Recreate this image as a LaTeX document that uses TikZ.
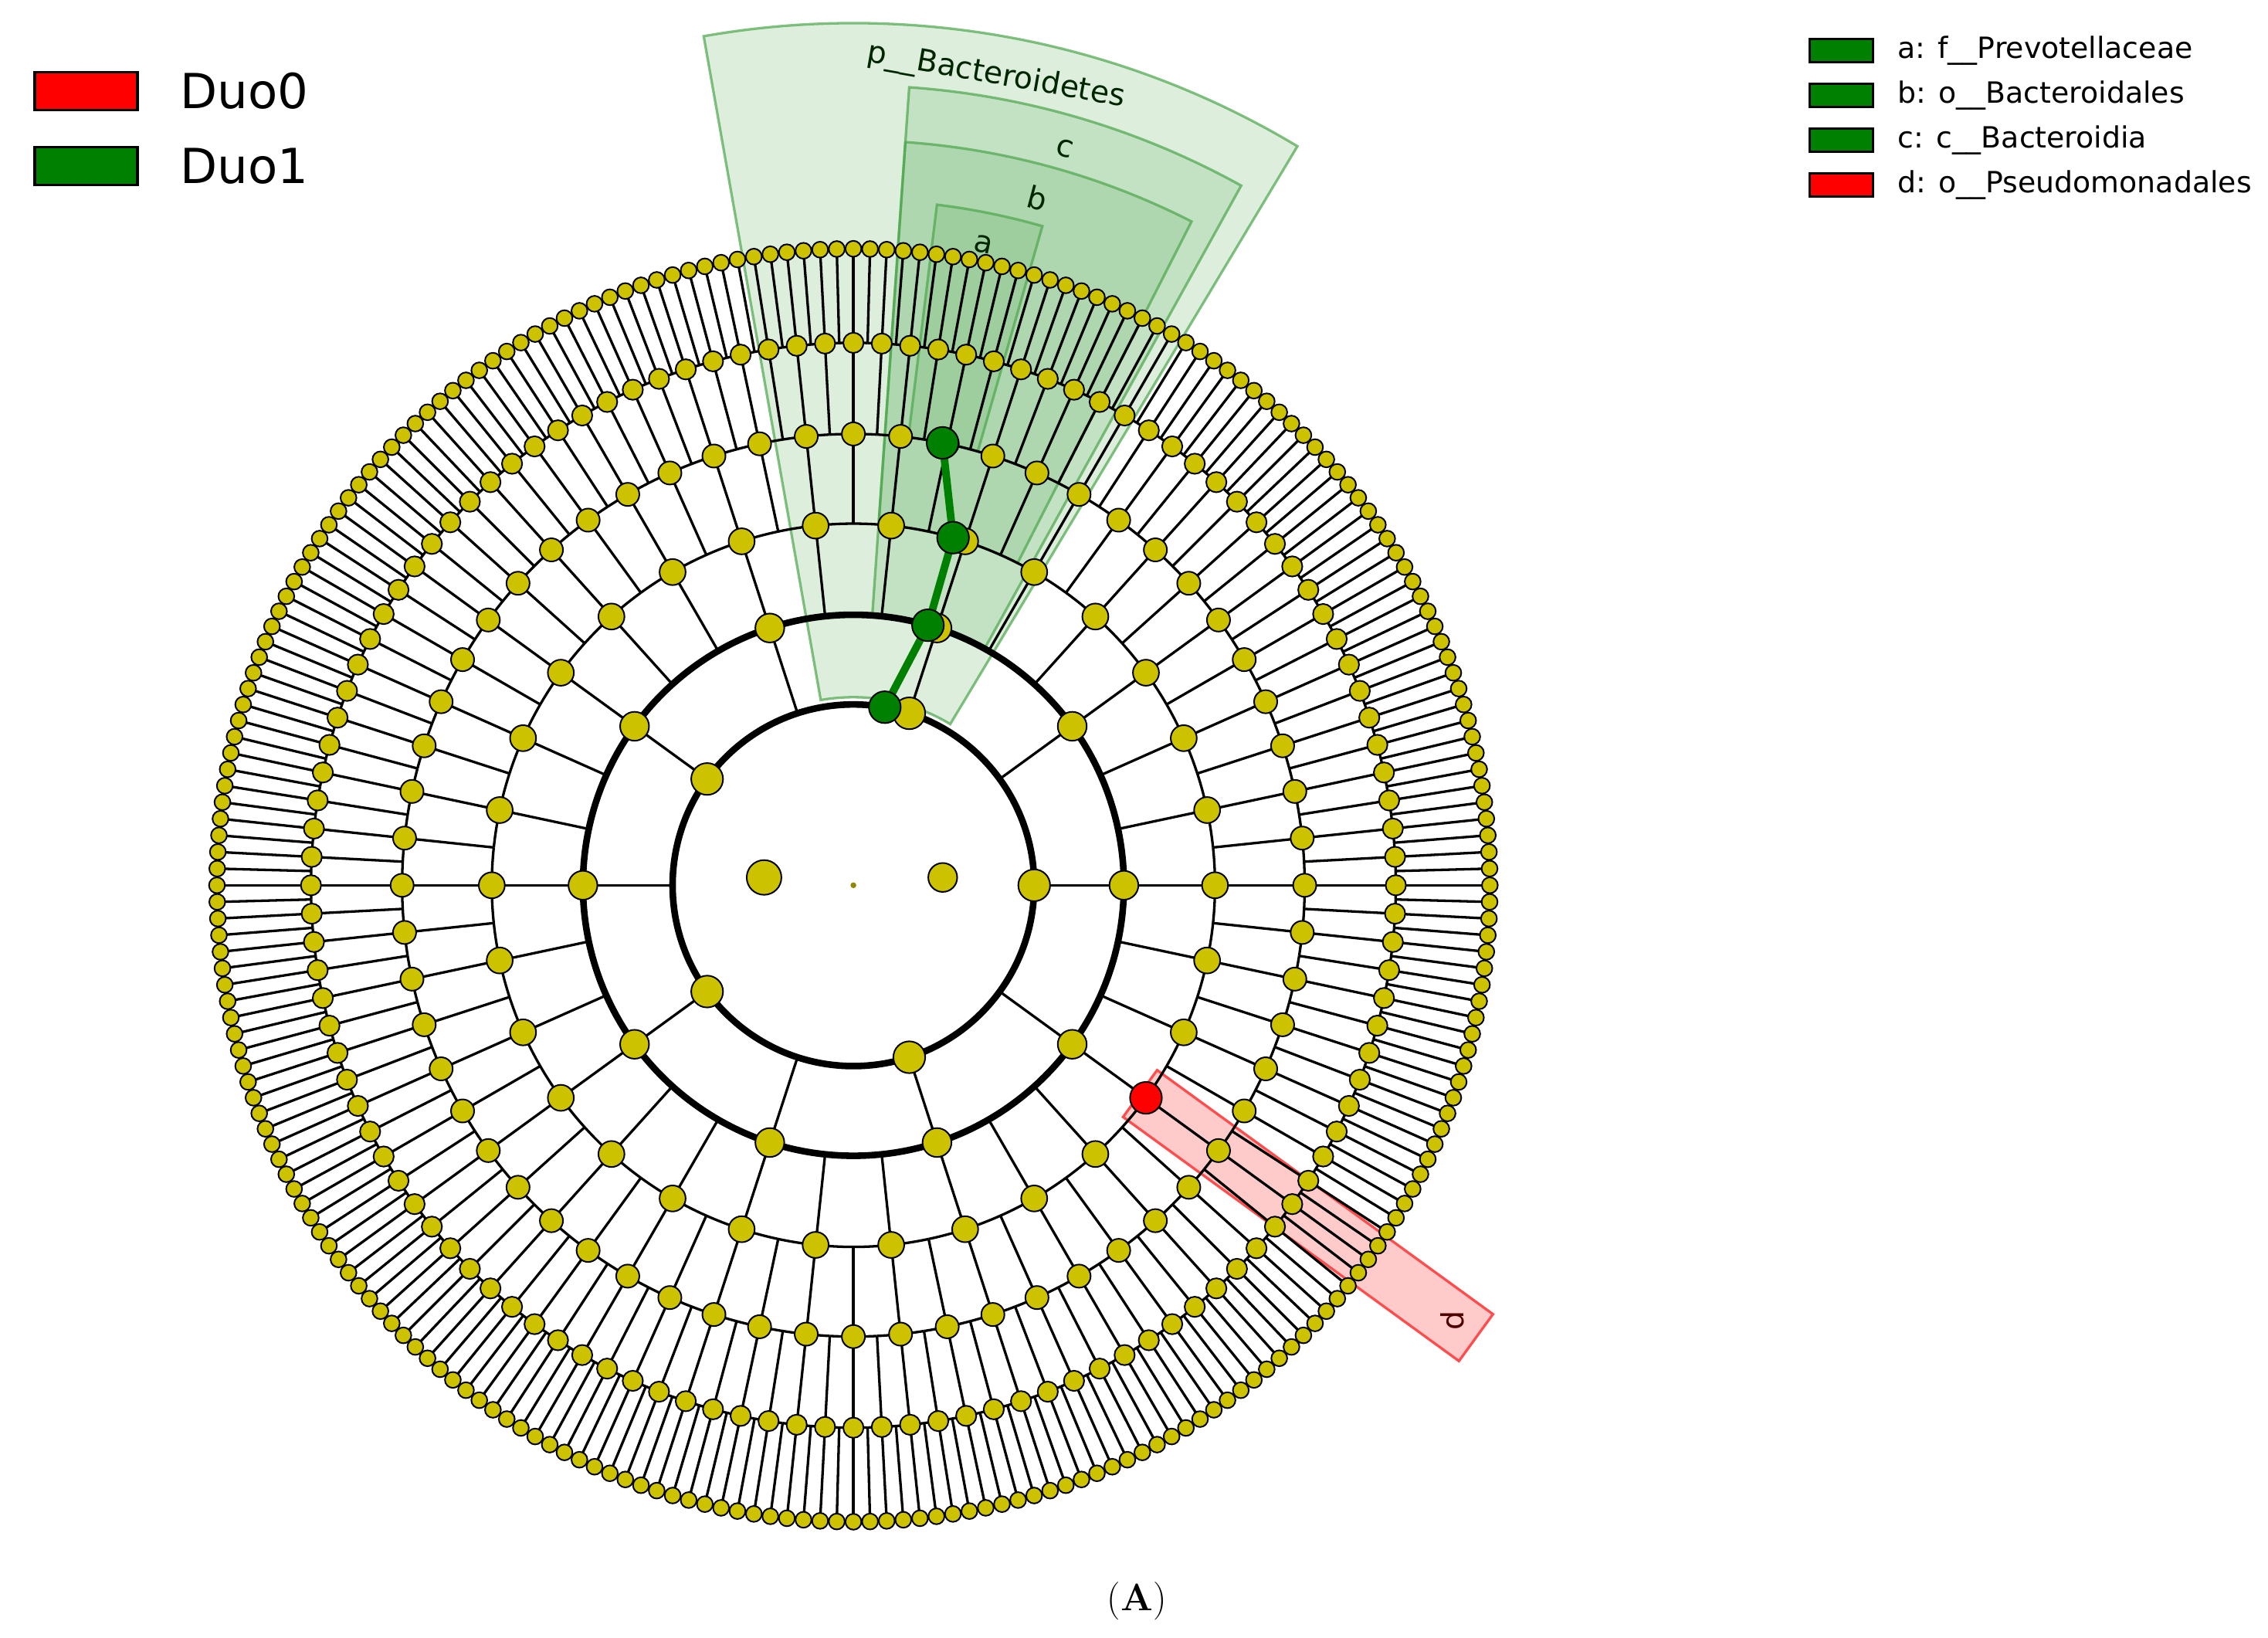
\documentclass[tikz,border=0pt]{standalone}
\usepackage{fontspec}
\newfontfamily\dv{DejaVu Sans}
\usetikzlibrary{positioning}
\definecolor{clade}{rgb}{0.80,0.76,0.0}
\definecolor{duogreen}{rgb}{0.0,0.5,0.0}
\definecolor{duored}{rgb}{1.0,0.0,0.0}
\tikzset{
  taxon/.style={draw=black, fill=clade, line width=0.6pt},
  branch/.style={black, line width=1pt},
  sector/.style={fill=duogreen!60!white, fill opacity=0.22, draw=duogreen!70!white, draw opacity=0.7, line width=1pt},
  keybox/.style={draw=black, line width=1pt},
}
\begin{document}
\begin{tikzpicture}[x=0.02cm, y=0.02cm]
\useasboundingbox (0,0) rectangle (1568,1132);

% Legende links
\node[keybox, fill=duored, minimum width=1.42cm, minimum height=0.52cm] (k0) at (59.5,1069) {};
\node[keybox, fill=duogreen, minimum width=1.42cm, minimum height=0.52cm, below=0.48cm of k0] (k1) {};
\node[right=0.45cm of k0, font=\dv\fontsize{19}{23}\selectfont] (t0) {Duo0};
\node[right=0.45cm of k1, font=\dv\fontsize{19}{23}\selectfont] (t1) {Duo1};

% Legende rechts
\foreach \n/\c/\t [count=\i] in {ka/duogreen/{a: f\_\_Prevotellaceae},kb/duogreen/{b: o\_\_Bacteroidales},kc/duogreen/{c: c\_\_Bacteroidia},kd/duored/{d: o\_\_Pseudomonadales}}{
  \node[keybox, fill=\c, minimum width=0.88cm, minimum height=0.32cm] (\n) at ({1273},{1097-31*(\i-1)}) {};
  \node[right=0.2cm of \n, font=\dv\fontsize{11.5}{13}\selectfont] {\t};
}

\begin{scope}[shift={(590,520)}]
% Sektoren
\fill[sector] (59:130) arc[start angle=59, end angle=100, radius=130] -- (100:596) arc[start angle=100, end angle=59, radius=596] -- cycle;
\fill[sector] (61:187) arc[start angle=61, end angle=86, radius=187] -- (86:553) arc[start angle=86, end angle=61, radius=553] -- cycle;
\fill[sector] (63:250) arc[start angle=63, end angle=86, radius=250] -- (86:515) arc[start angle=86, end angle=63, radius=515] -- cycle;
\fill[sector] (74:312) arc[start angle=74, end angle=83, radius=312] -- (83:474) arc[start angle=83, end angle=74, radius=474] -- cycle;
\node[rotate=-10, font=\dv\fontsize{12}{14}\selectfont, text=duogreen!30!black] at (80:568) {p\_\_Bacteroidetes};
\node[rotate=-16, font=\dv\fontsize{12}{14}\selectfont, text=duogreen!30!black] at (74:530) {c};
\node[rotate=-15, font=\dv\fontsize{12}{14}\selectfont, text=duogreen!30!black] at (75:492) {b};
\node[rotate=-12, font=\dv\fontsize{12}{14}\selectfont, text=duogreen!30!black] at (78.5:452) {a};
\begin{scope}[rotate=-36]
\fill[fill=duored!60!white, fill opacity=0.35, draw=duored!70!white, line width=1pt] (245,-20) rectangle (532,20);
\node[rotate=90, font=\dv\fontsize{12}{14}\selectfont, text=duored!30!black] at (512,0) {d};
\end{scope}

% Baum
\draw[line width=2.6pt] (0,0) circle[radius=125];
\draw[line width=2.6pt] (0,0) circle[radius=187];
\foreach \rin/\rout/\st in {375/440/1.5, 312/375/3, 250/312/6, 187/250/12, 125/187/36}{
  \foreach \a in {0,\st,...,359.9}{
    \draw[branch] (\a:\rin) -- (\a:\rout);
    \draw[branch] (\a:\rin) arc[start angle=\a, end angle=\a+\st, radius=\rin];
  }
}
\foreach \rout/\st/\r in {440/1.5/5.5, 375/3/7, 312/6/8, 250/12/9, 187/36/10, 125/72/11}{
  \foreach \a in {0,\st,...,359.9}
    \fill[taxon] (\a:\rout) circle[radius=\r];
}
\fill[taxon] (175:62) circle[radius=12];
\fill[taxon] (5:62) circle[radius=10];
\fill[clade!70!black] (0,0) circle[radius=2];

% hervorgehobene Taxa
\draw[duogreen, line width=3pt] (80:125) -- (74:187) -- (74:250) -- (78.6:312);
\foreach \a/\rr in {80/125, 74/187, 74/250, 78.6/312}
  \fill[draw=black, fill=duogreen, line width=0.6pt] (\a:\rr) circle[radius=11];
\fill[draw=black, fill=duored, line width=0.6pt] (-36:250) circle[radius=11];
\end{scope}

\node[font=\fontsize{15}{18}\selectfont] at (786,25) {(\textbf{A})};
\end{tikzpicture}
\end{document}
